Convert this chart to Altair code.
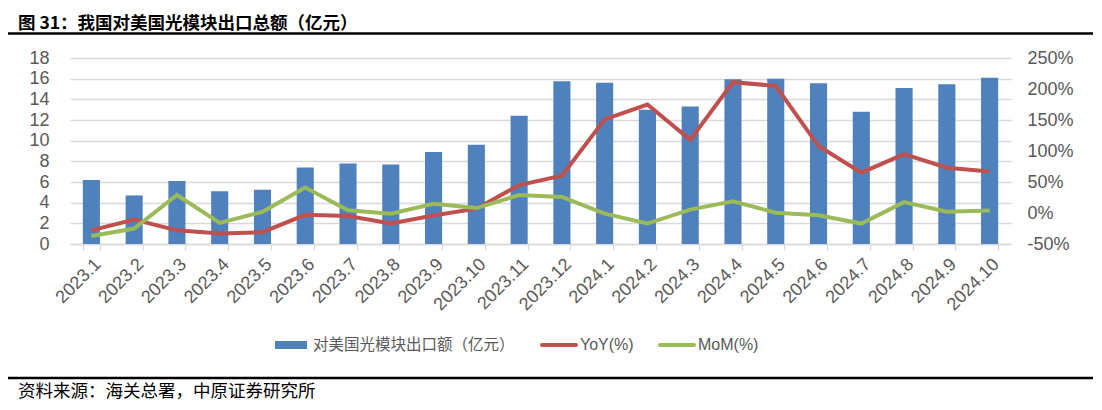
import altair as alt
import pandas as pd

months = ["2023.1", "2023.2", "2023.3", "2023.4", "2023.5", "2023.6", "2023.7", "2023.8",
          "2023.9", "2023.10", "2023.11", "2023.12", "2024.1", "2024.2", "2024.3", "2024.4",
          "2024.5", "2024.6", "2024.7", "2024.8", "2024.9", "2024.10"]
export_value = [6.2, 4.7, 6.1, 5.1, 5.25, 7.4, 7.8, 7.7, 8.9, 9.6, 12.4, 15.75,
                15.6, 13.0, 13.3, 15.95, 16.0, 15.55, 12.8, 15.1, 15.45, 16.1]
yoy = [-28, -10.5, -28, -33, -31, -3, -5, -17, -4, 7, 45, 60,
       151, 175, 118, 211, 205, 108, 65, 95, 73, 67]
mom = [-37, -25, 29, -16, 2, 41, 4.5, -1, 15, 8, 29, 26,
       -1, -17, 5.5, 19, 0.5, -3.5, -17, 17.5, 2, 4]

bar_name = "对美国光模块出口额（亿元）"
series_names = ["YoY(%)", "MoM(%)"]
title_text = "图 31：我国对美国光模块出口总额（亿元）"
source_text = "资料来源：海关总署，中原证券研究所"

W, H = 941, 186
GREY = "#595959"
GRID = "#d9d9d9"
LATIN = "Liberation Sans"
CJK = "Noto Sans CJK SC"

bars_df = pd.DataFrame({"month": months, "value": export_value})
lines_df = pd.DataFrame({
    "month": months * 2,
    "series": [series_names[0]] * len(months) + [series_names[1]] * len(months),
    "pct": yoy + mom,
})

x_axis = alt.Axis(title=None, labelAngle=315, labelFontSize=18, labelColor=GREY, labelFont=LATIN,
                  domainColor=GRID, domainWidth=1.3, tickColor=GRID, tickWidth=1.3, tickSize=6,
                  tickBand="extent", labelPadding=5, grid=False)
x_enc = alt.X("month:N", sort=months, axis=x_axis,
              scale=alt.Scale(paddingInner=0.6, paddingOuter=0.3))

bars = alt.Chart(bars_df).mark_bar(color="#4f81bd").encode(
    x=x_enc,
    y=alt.Y("value:Q", scale=alt.Scale(domain=[0, 18], nice=False),
            axis=alt.Axis(title=None, orient="left", values=list(range(0, 19, 2)), grid=True,
                          gridColor=GRID, gridWidth=1.3, domain=False, ticks=False,
                          labelFontSize=18, labelColor=GREY, labelFont=LATIN, labelPadding=21)),
)

lines = alt.Chart(lines_df).mark_line(strokeWidth=4).encode(
    x=x_enc,
    y=alt.Y("pct:Q", scale=alt.Scale(domain=[-50, 250], nice=False),
            axis=alt.Axis(title=None, orient="right", values=list(range(-50, 251, 50)),
                          labelExpr="datum.value + '%'", grid=False, domain=False, ticks=False,
                          labelFontSize=18, labelColor=GREY, labelFont=LATIN, labelPadding=16)),
    color=alt.Color("series:N", scale=alt.Scale(domain=series_names, range=["#c0504d", "#9bbb59"]),
                    legend=None),
    order=alt.Order("series:N"),
)

one = pd.DataFrame({"a": [0]})

title = alt.Chart(pd.DataFrame({"t": [title_text]})).mark_text(
    align="left", baseline="alphabetic", font=CJK, fontSize=17.5, fontWeight="bold", color="#000000"
).encode(text="t:N", x=alt.value(-52), y=alt.value(-29.5))

source = alt.Chart(pd.DataFrame({"t": [source_text]})).mark_text(
    align="left", baseline="alphabetic", font=CJK, fontSize=17.5, color="#000000"
).encode(text="t:N", x=alt.value(-52), y=alt.value(339))

top_rule = alt.Chart(one).mark_rule(color="#000000", strokeWidth=2.5).encode(
    x=alt.value(-62), x2=alt.value(1023), y=alt.value(-24.5))
bottom_rule = alt.Chart(one).mark_rule(color="#000000", strokeWidth=2.5).encode(
    x=alt.value(-62), x2=alt.value(1023), y=alt.value(320))

leg_bar = alt.Chart(one).mark_rect(color="#4f81bd").encode(
    x=alt.value(205), x2=alt.value(237), y=alt.value(283), y2=alt.value(291))
leg_bar_t = alt.Chart(pd.DataFrame({"t": [bar_name]})).mark_text(
    align="left", baseline="middle", font=CJK, fontSize=15.5, color=GREY
).encode(text="t:N", x=alt.value(243), y=alt.value(287))
leg_red = alt.Chart(one).mark_rule(color="#c0504d", strokeWidth=4, strokeCap="round").encode(
    x=alt.value(472), x2=alt.value(506), y=alt.value(287))
leg_red_t = alt.Chart(pd.DataFrame({"t": [series_names[0]]})).mark_text(
    align="left", baseline="middle", font=LATIN, fontSize=16, color=GREY
).encode(text="t:N", x=alt.value(510), y=alt.value(287))
leg_green = alt.Chart(one).mark_rule(color="#9bbb59", strokeWidth=4, strokeCap="round").encode(
    x=alt.value(590), x2=alt.value(624), y=alt.value(287))
leg_green_t = alt.Chart(pd.DataFrame({"t": [series_names[1]]})).mark_text(
    align="left", baseline="middle", font=LATIN, fontSize=16, color=GREY
).encode(text="t:N", x=alt.value(628), y=alt.value(287))

chart = alt.layer(
    bars, lines, title, source, top_rule, bottom_rule,
    leg_bar, leg_bar_t, leg_red, leg_red_t, leg_green, leg_green_t
).resolve_scale(y="independent").properties(
    width=W, height=H,
    autosize=alt.AutoSizeParams(type="none"),
    padding={"left": 62, "top": 50, "right": 83, "bottom": 158},
    background="#ffffff",
).configure_view(stroke=None)

chart.save("out.html", embed_options={"renderer": "svg", "actions": False})
